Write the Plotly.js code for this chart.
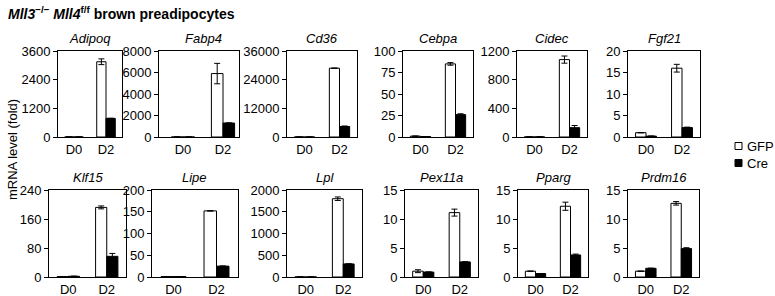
<!DOCTYPE html>
<html>
<head>
<meta charset="utf-8">
<script src="https://cdn.plot.ly/plotly-3.0.1.min.js"></script>
<style>html,body{margin:0;padding:0;background:#fff;}#chart{width:775px;height:296px;}</style>
</head>
<body>
<div id="chart"></div>
<script>
// ---- data ----
const genes = ['Adipoq','Fabp4','Cd36','Cebpa','Cidec','Fgf21','Klf15','Lipe','Lpl','Pex11a','Pparg','Prdm16'];
const days = ['D0','D2'];
const gfpD0    = [1, 1, 1, 1, 1, 1, 1, 1, 1, 1, 1, 1];
const gfpD2    = [3150, 5900, 28800, 85, 1080, 16, 192, 152, 1800, 11.1, 12.2, 12.7];
const gfpD0Err = [0, 0, 0, 0, 0, 0, 0, 0, 0, 0.25, 0, 0];
const gfpD2Err = [120, 950, 0, 1.5, 50, 0.9, 4, 0, 40, 0.6, 0.7, 0.3];
const creD0    = [1, 1, 1, 0.5, 1, 0.2, 2, 1, 1, 0.85, 0.6, 1.5];
const creD2    = [780, 1300, 4400, 26, 130, 2.2, 57, 25, 300, 2.6, 3.8, 4.9];
const creD0Err = [0, 0, 0, 0, 0, 0, 0, 0, 0, 0, 0, 0];
const creD2Err = [0, 0, 200, 1, 30, 0.1, 8, 0, 0, 0, 0.15, 0.15];
const yTicks = [
  [0, 1200, 2400, 3600],
  [0, 2000, 4000, 6000, 8000],
  [0, 12000, 24000, 36000],
  [0, 25, 50, 75, 100],
  [0, 400, 800, 1200],
  [0, 5, 10, 15, 20],
  [0, 80, 160, 240],
  [0, 50, 100, 150, 200],
  [0, 500, 1000, 1500, 2000],
  [0, 5, 10, 15],
  [0, 5, 10, 15],
  [0, 5, 10, 15]
];
const seriesNames = ['GFP', 'Cre'];

// ---- layout geometry (pixels) ----
const W = 775, H = 296;
const boxes = [
  [58, 122, 51, 137], [159, 239, 51, 137], [287, 357, 51, 137],
  [403, 473, 51, 137], [517, 587, 51, 137], [628, 700, 51, 137],
  [49, 126, 190, 277], [152, 238, 190, 277], [287, 362, 190, 277],
  [405, 478, 190, 277], [518, 588, 190, 277], [628, 699, 190, 277]
];
const xRanges = [
  [-0.5, 1.5], [-0.6, 1.4], [-0.5, 1.5], [-0.5, 1.5], [-0.5, 1.5], [-0.5, 1.5],
  [-0.5, 1.5], [-0.5, 1.5], [-0.5, 1.5], [-0.5, 1.5], [-0.5, 1.5], [-0.5, 1.5]
];
const FONT = 'Liberation Sans, Arial, sans-serif';
const fills = ['#fff', '#000'];

const traces = [];
const layout = {
  width: W, height: H,
  margin: {l: 0, r: 0, t: 0, b: 0},
  paper_bgcolor: '#fff', plot_bgcolor: '#fff',
  font: {family: FONT, size: 13, color: '#000'},
  barmode: 'group', bargap: 0.42, bargroupgap: 0,
  showlegend: false,
  annotations: [],
  shapes: []
};

genes.forEach((g, i) => {
  const n = i + 1;
  const sfx = n === 1 ? '' : String(n);
  const xa = 'x' + sfx, ya = 'y' + sfx;
  const b = boxes[i];
  const r = xRanges[i];
  const ymax = yTicks[i][yTicks[i].length - 1];
  layout['xaxis' + sfx] = {
    domain: [b[0] / W, b[1] / W], anchor: ya, type: 'category',
    range: r, showline: true, mirror: true, linecolor: '#000', linewidth: 1,
    ticks: '', showgrid: false, zeroline: false, fixedrange: true,
    tickfont: {family: FONT, size: 13, color: '#000'}
  };
  layout['yaxis' + sfx] = {
    domain: [1 - b[3] / H, 1 - b[2] / H], anchor: xa,
    range: [0, ymax], tickvals: yTicks[i], ticktext: yTicks[i].map(String),
    showline: true, mirror: true, linecolor: '#000', linewidth: 1,
    ticks: 'outside', ticklen: 4, tickcolor: '#000', tickwidth: 1,
    showgrid: false, zeroline: false, fixedrange: true,
    tickfont: {family: FONT, size: 13, color: '#000'}
  };
  traces.push({
    type: 'bar', name: seriesNames[0],
    x: days, y: [gfpD0[i], gfpD2[i]], xaxis: xa, yaxis: ya,
    marker: {color: fills[0], line: {color: '#000', width: 1}},
    error_y: {type: 'data', array: [gfpD0Err[i], gfpD2Err[i]], visible: true,
              color: '#000', thickness: 1, width: 3},
    hoverinfo: 'skip'
  });
  traces.push({
    type: 'bar', name: seriesNames[1],
    x: days, y: [creD0[i], creD2[i]], xaxis: xa, yaxis: ya,
    marker: {color: fills[1], line: {color: '#000', width: 1}},
    error_y: {type: 'data', array: [creD0Err[i], creD2Err[i]], visible: true,
              color: '#000', thickness: 1, width: 3},
    hoverinfo: 'skip'
  });
  // gene title centred over the midpoint between the two day groups
  const midPx = b[0] + (0.5 - r[0]) / (r[1] - r[0]) * (b[1] - b[0]);
  layout.annotations.push({
    text: '<i>' + g + '</i>', xref: 'paper', yref: 'paper',
    x: midPx / W, y: 1 - (b[2] - 13) / H,
    xanchor: 'center', yanchor: 'middle', showarrow: false,
    font: {family: FONT, size: 13, color: '#000'}
  });
});

// legend (swatch + label)
const legendY = [146, 163];
seriesNames.forEach((nm, k) => {
  const cy = legendY[k];
  layout.shapes.push({
    type: 'rect', xref: 'paper', yref: 'paper',
    x0: 735 / W, x1: 742 / W, y0: 1 - (cy + 3.5) / H, y1: 1 - (cy - 3.5) / H,
    fillcolor: fills[k], line: {color: '#000', width: 1}
  });
  layout.annotations.push({
    text: nm, xref: 'paper', yref: 'paper', x: 745 / W, y: 1 - cy / H,
    xanchor: 'left', yanchor: 'middle', showarrow: false,
    font: {family: FONT, size: 13, color: '#000'}
  });
});

layout.annotations.push({
  text: '<b><i>Mll3</i><sup>\u2212/\u2212</sup> <i>Mll4</i><sup>f/f</sup> brown preadipocytes</b>',
  xref: 'paper', yref: 'paper', x: 6 / W, y: 1 - 13 / H,
  xanchor: 'left', yanchor: 'middle', showarrow: false,
  font: {family: FONT, size: 14, color: '#000'}
});
layout.annotations.push({
  text: 'mRNA level (fold)', xref: 'paper', yref: 'paper',
  x: 12 / W, y: 1 - 150 / H, xanchor: 'center', yanchor: 'middle',
  textangle: -90, showarrow: false,
  font: {family: FONT, size: 13, color: '#000'}
});

Plotly.newPlot('chart', traces, layout, {displayModeBar: false, staticPlot: true});
</script>
</body>
</html>
